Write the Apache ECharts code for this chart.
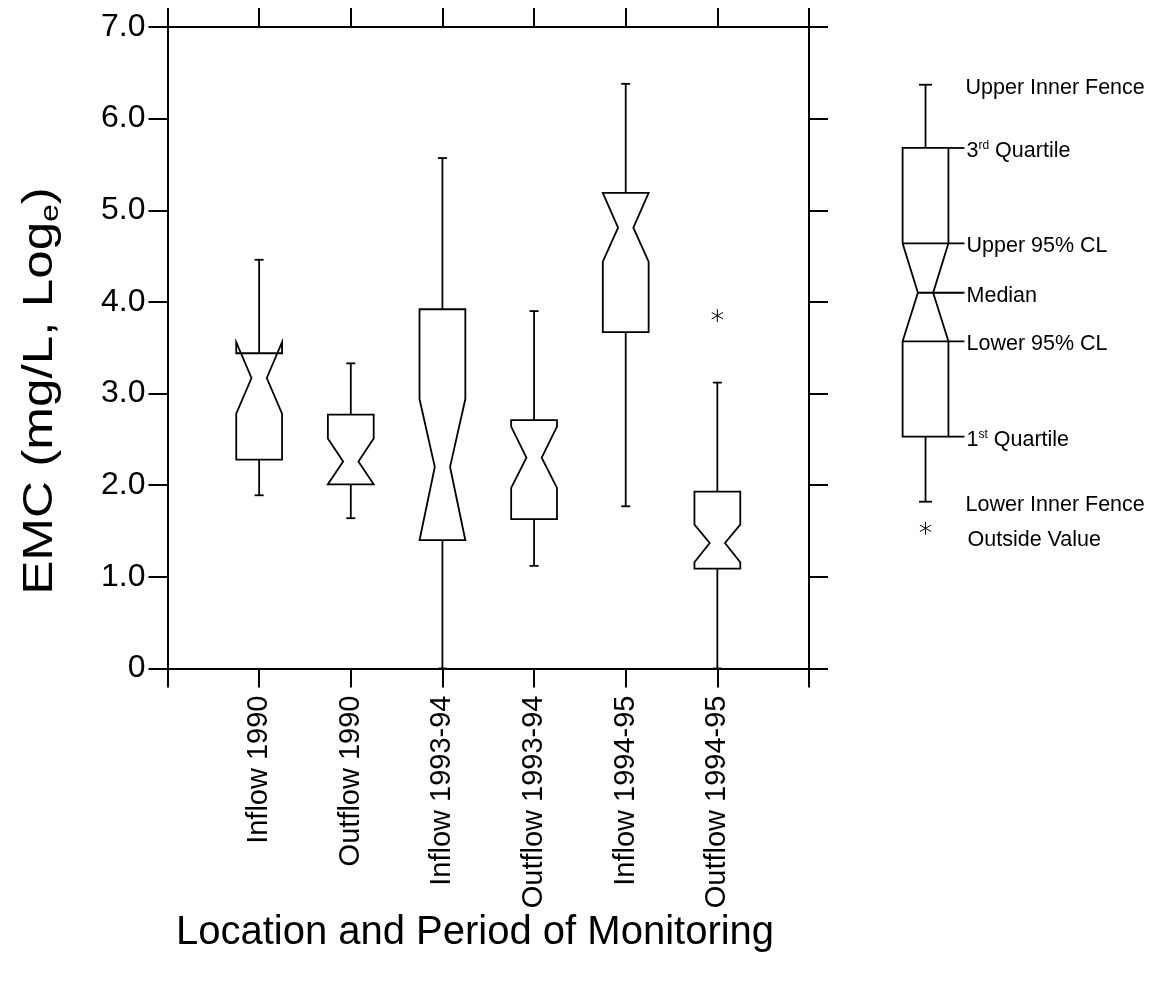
<!DOCTYPE html>
<html>
<head>
<meta charset="utf-8">
<script src="https://cdn.jsdelivr.net/npm/echarts@6/dist/echarts.min.js"></script>
<style>
  html, body { margin: 0; background: #fff; }
  #chart { width: 1156px; height: 996px; }
</style>
</head>
<body>
<div id="chart"></div>
<script>
// categories sit at x = 1..6 on a 0..7 value axis
var categories = ['Inflow 1990', 'Outflow 1990', 'Inflow 1993-94', 'Outflow 1993-94', 'Inflow 1994-95', 'Outflow 1994-95'];

// EMC values (mg/L, log e)
var lowFence  = [1.89, 1.64, 0.00, 1.12, 1.77, 0.00];
var q1        = [2.28, 2.01, 1.40, 1.63, 3.67, 1.09];
var lowCL     = [2.78, 2.01, 1.40, 1.97, 4.44, 1.16];
var median    = [3.17, 2.26, 2.20, 2.30, 4.81, 1.37];
var highCL    = [3.56, 2.51, 2.94, 2.64, 5.19, 1.57];
var q3        = [3.44, 2.77, 3.92, 2.71, 5.19, 1.93];
var highFence = [4.46, 3.33, 5.57, 3.90, 6.38, 3.12];

// outside values: [category number, value]
var outliers = [[6, 3.85]];

var yTickLabels = ['0', '1.0', '2.0', '3.0', '4.0', '5.0', '6.0', '7.0'];

// key box on the right, drawn on the same 0..7 scale
var keyBox = [1.82, 2.53, 3.57, 4.10, 4.64, 5.68, 6.37];
var keyOutside = 1.53;
var keyNames = ['Lower Inner Fence', '{n|1}{s|st}{n| Quartile}', 'Lower 95% CL', 'Median',
                'Upper 95% CL', '{n|3}{s|rd}{n| Quartile}', 'Upper Inner Fence'];
var keyOutsideName = 'Outside Value';

var FONT = 'Liberation Sans, Arial, sans-serif';
var LW = 1.8;

var boxData = categories.map(function (c, i) {
  return [i + 1, lowFence[i], q1[i], lowCL[i], median[i], highCL[i], q3[i], highFence[i]];
});

function boxShapes(api, withKeyLines) {
  var x = api.value(0);
  var ys = [];
  for (var d = 1; d <= 7; d++) ys.push(api.coord([x, api.value(d)])[1]);
  var cx = api.coord([x, 0])[0];
  var hw = api.size([0.5, 0])[0] / 2;
  var hn = hw / 3;
  var lf = ys[0], b1 = ys[1], lcl = ys[2], md = ys[3], ucl = ys[4], b3 = ys[5], hf = ys[6];
  var st = { stroke: '#000', lineWidth: LW, fill: null };
  var cap = withKeyLines ? 6.5 : 4.5;
  var kids = [
    { type: 'polygon', shape: { points: [
        [cx - hw, b1], [cx - hw, lcl], [cx - hn, md], [cx - hw, ucl], [cx - hw, b3],
        [cx + hw, b3], [cx + hw, ucl], [cx + hn, md], [cx + hw, lcl], [cx + hw, b1]] },
      style: { stroke: '#000', lineWidth: LW, fill: '#fff' } },
    { type: 'line', shape: { x1: cx, y1: b3, x2: cx, y2: hf }, style: st },
    { type: 'line', shape: { x1: cx - cap, y1: hf, x2: cx + cap, y2: hf }, style: st },
    { type: 'line', shape: { x1: cx, y1: b1, x2: cx, y2: lf }, style: st },
    { type: 'line', shape: { x1: cx - cap, y1: lf, x2: cx + cap, y2: lf }, style: st }
  ];
  if (withKeyLines) {
    var lx = cx + hw + 16;
    kids.push(
      { type: 'line', shape: { x1: cx - hw, y1: ucl, x2: lx, y2: ucl }, style: st },
      { type: 'line', shape: { x1: cx - hn, y1: md, x2: lx, y2: md }, style: st },
      { type: 'line', shape: { x1: cx - hw, y1: lcl, x2: lx, y2: lcl }, style: st },
      { type: 'line', shape: { x1: cx + hw, y1: b3, x2: lx, y2: b3 }, style: st },
      { type: 'line', shape: { x1: cx + hw, y1: b1, x2: lx, y2: b1 }, style: st }
    );
  }
  return { type: 'group', children: kids };
}

function asterisk(p) {
  var r = 6.5, kids = [];
  [90, 30, -30].forEach(function (a) {
    var dx = r * Math.cos(a * Math.PI / 180), dy = r * Math.sin(a * Math.PI / 180);
    kids.push({ type: 'line', shape: { x1: p[0] - dx, y1: p[1] + dy, x2: p[0] + dx, y2: p[1] - dy },
      style: { stroke: '#000', lineWidth: 1 } });
  });
  return { type: 'group', children: kids };
}

var axisLineStyle = { onZero: false, lineStyle: { color: '#000', width: 2 } };
var tickStyle = { show: true, inside: false, length: 19, lineStyle: { color: '#000', width: 2 } };

var chart = echarts.init(document.getElementById('chart'), null, { renderer: 'canvas' });

var option = {
  backgroundColor: '#fff',
  animation: false,
  grid: [
    { left: 167.5, top: 27, width: 641.5, height: 641.5 },
    { left: 879.7, top: 27, width: 91.64, height: 641.5 }
  ],
  xAxis: [
    { gridIndex: 0, type: 'value', min: 0, max: 7, interval: 1, position: 'bottom',
      axisLine: axisLineStyle, axisTick: tickStyle, splitLine: { show: false },
      axisLabel: { rotate: 90, margin: 27, color: '#000', fontFamily: FONT, fontSize: 29,
        formatter: function (v) { return categories[v - 1] || ''; } } },
    { gridIndex: 0, type: 'value', min: 0, max: 7, interval: 1, position: 'top',
      axisLine: axisLineStyle, axisTick: tickStyle, splitLine: { show: false },
      axisLabel: { show: false } },
    { gridIndex: 1, type: 'value', min: 0, max: 1, show: false }
  ],
  yAxis: [
    { gridIndex: 0, type: 'value', min: 0, max: 7, interval: 1, position: 'left',
      axisLine: axisLineStyle, axisTick: tickStyle, splitLine: { show: false },
      axisLabel: { margin: 22, color: '#000', fontFamily: FONT, fontSize: 32,
        formatter: function (v) { return yTickLabels[v]; } } },
    { gridIndex: 0, type: 'value', min: 0, max: 7, interval: 1, position: 'right',
      axisLine: axisLineStyle, axisTick: tickStyle, splitLine: { show: false },
      axisLabel: { show: false } },
    { gridIndex: 1, type: 'value', min: 0, max: 7, show: false }
  ],
  series: [
    { type: 'custom', name: 'boxes', xAxisIndex: 0, yAxisIndex: 0, data: boxData,
      renderItem: function (params, api) { return boxShapes(api, false); } },
    { type: 'custom', name: 'outliers', xAxisIndex: 0, yAxisIndex: 0, data: outliers,
      renderItem: function (params, api) { return asterisk(api.coord([api.value(0), api.value(1)])); } },
    { type: 'custom', name: 'key', xAxisIndex: 2, yAxisIndex: 2, data: [[0.5].concat(keyBox)],
      renderItem: function (params, api) { return boxShapes(api, true); } },
    { type: 'custom', name: 'keyOutside', xAxisIndex: 2, yAxisIndex: 2, data: [[0.5, keyOutside]],
      renderItem: function (params, api) {
        var p = api.coord([api.value(0), api.value(1)]);
        var g = asterisk(p);
        g.children.push({ type: 'text', x: p[0] + 42, y: p[1] + 12,
          style: { text: keyOutsideName, font: '21.5px ' + FONT, fill: '#000',
            align: 'left', verticalAlign: 'middle' } });
        return g;
      } },
    { type: 'custom', name: 'keyLabels', xAxisIndex: 2, yAxisIndex: 2,
      data: keyBox.map(function (v, i) { return [0.5, v, i]; }),
      renderItem: function (params, api) {
        var p = api.coord([api.value(0), api.value(1)]);
        var i = api.value(2);
        var fence = (i === 0 || i === 6);
        return { type: 'text', x: p[0] + (fence ? 40 : 41), y: p[1] + 3,
          style: { text: keyNames[i], font: '21.5px ' + FONT, fill: '#000',
            align: 'left', verticalAlign: 'middle',
            rich: { n: { fontSize: 21.5, fontFamily: FONT, color: '#000' },
                    s: { fontSize: 12, fontFamily: FONT, color: '#000', verticalAlign: 'top' } } } };
      } }
  ],
  graphic: [
    { type: 'text', x: 40, y: 391, rotation: Math.PI / 2, scaleX: 1.22,
      style: { text: '{a|EMC (mg/L, Log}{s|e}{a|)}', align: 'center', verticalAlign: 'middle',
        rich: { a: { fontSize: 42, fontFamily: FONT, color: '#000', lineHeight: 48 },
                s: { fontSize: 26, fontFamily: FONT, color: '#000', verticalAlign: 'bottom' } } } },
    { type: 'text', x: 475, y: 933,
      style: { text: 'Location and Period of Monitoring', font: '40px ' + FONT, fill: '#000',
        align: 'center', verticalAlign: 'middle' } }
  ]
};

chart.setOption(option);
</script>
</body>
</html>
